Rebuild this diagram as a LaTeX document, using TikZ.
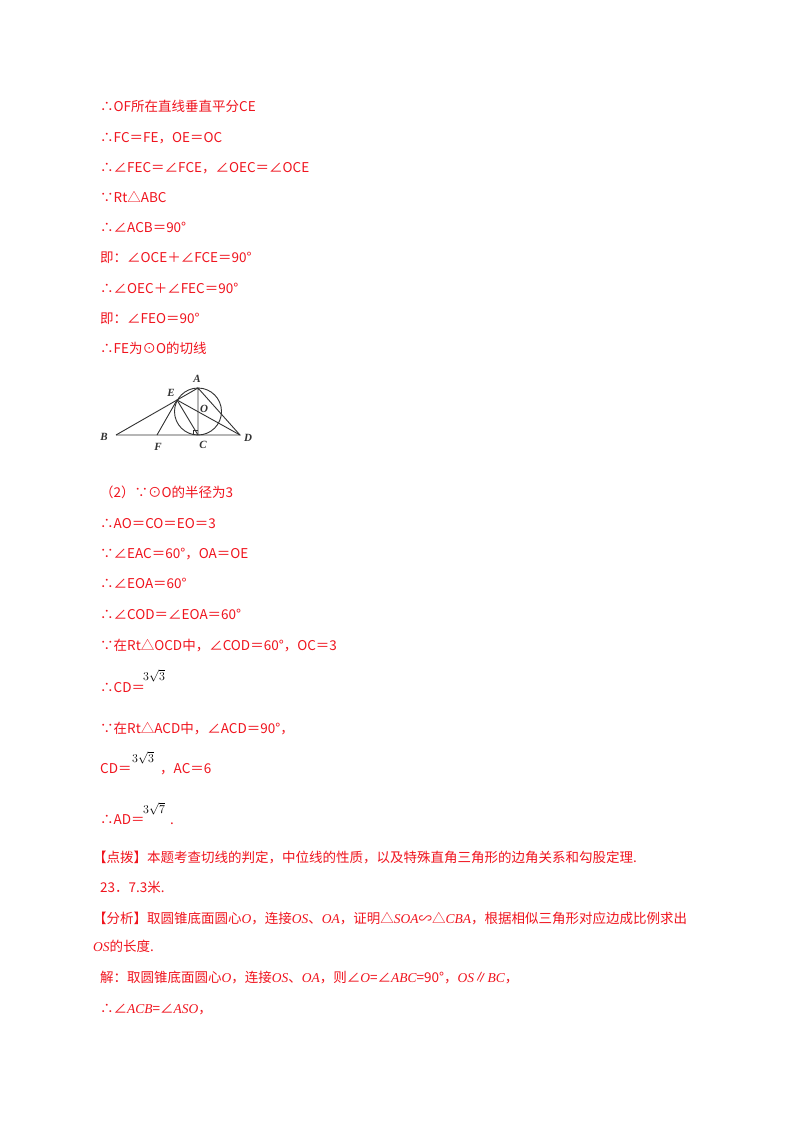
\documentclass[tikz,border=0pt]{standalone}
\usepackage{fontspec}
\setmainfont{Noto Sans CJK SC}
\newfontfamily\serif{Liberation Serif}
\definecolor{txt}{RGB}{240,20,30}
\definecolor{fig}{RGB}{50,50,50}
\newcommand{\mvar}[1]{{\serif\itshape #1}}
\begin{document}
\begin{tikzpicture}[x=1pt,y=-1pt,
  t/.style={anchor=base west,inner sep=0,text=txt,font=\fontsize{13.5}{13.5}\selectfont},
  s/.style={anchor=base west,inner sep=0,font=\serif\fontsize{13}{13}\selectfont},
  lab/.style={inner sep=0,font=\serif\itshape\bfseries\fontsize{11}{11}\selectfont,text=fig},
  g/.style={fig,line width=0.9pt}]
\useasboundingbox[fill=white] (0,0) rectangle (800,1132);
\node[t] (l1) at (100,111) {∴OF所在直线垂直平分CE};
\node[t] (l2) at (100,142) {∴FC＝FE，OE＝OC};
\node[t] (l3) at (100,172) {∴∠FEC＝∠FCE，∠OEC＝∠OCE};
\node[t] (l4) at (100,202) {∵Rt△ABC};
\node[t] (l5) at (100,232) {∴∠ACB＝90°};
\node[t] (l6) at (100,262) {即：∠OCE＋∠FCE＝90°};
\node[t] (l7) at (100,293) {∴∠OEC＋∠FEC＝90°};
\node[t] (l8) at (100,323) {即：∠FEO＝90°};
\node[t] (l9) at (100,353) {∴FE为⊙O的切线};
% figure
\coordinate (B) at (116,435);
\coordinate (C) at (198,435);
\coordinate (D) at (240,435);
\coordinate (A) at (198,388);
\coordinate (O) at (198,411.5);
\coordinate (F) at (157,435);
\coordinate (E) at (177,400);
\draw[g] (O) circle (23.5);
\draw[g] (B) -- (D) -- (A) -- (C);
\draw[g] (B) -- (A);
\draw[g] (F) -- (E) -- (C);
\draw[g] (E) -- (D);
\draw[g,line width=0.6pt] (193,435) -- (193,430) -- (198,430);
\node[lab] (nA) at (197,379) {A};
\node[lab] (nE) at (171,393) {E};
\node[lab] (nO) at (204,409) {O};
\node[lab] (nB) at (104,437) {B};
\node[lab] (nF) at (158,447) {F};
\node[lab] (nC) at (203,445) {C};
\node[lab] (nD) at (248,438) {D};
% part 2
\node[t] (m1) at (100,497) {（2）∵⊙O的半径为3};
\node[t] (m2) at (100,528) {∴AO＝CO＝EO＝3};
\node[t] (m3) at (100,558) {∵∠EAC＝60°，OA＝OE};
\node[t] (m4) at (100,588) {∴∠EOA＝60°};
\node[t] (m5) at (100,619) {∴∠COD＝∠EOA＝60°};
\node[t] (m6) at (100,650) {∵在Rt△OCD中，∠COD＝60°，OC＝3};
\node[t] (m7) at (100,692) {∴CD＝};
\node[s] (r1) at (143,680) {$3\sqrt{3}$};
\node[t] (m8) at (100,733) {∵在Rt△ACD中，∠ACD＝90°，};
\node[t] (m9) at (100,773) {CD＝};
\node[s] (r2) at (132,762) {$3\sqrt{3}$};
\node[t] (m10) at (160,773) {，AC＝6};
\node[t] (m11) at (100,824) {∴AD＝};
\node[s] (r3) at (143,813) {$3\sqrt{7}$};
\node[t] (m12) at (170,824) {.};
\node[t] (p1) at (93,862) {【点拨】本题考查切线的判定，中位线的性质，以及特殊直角三角形的边角关系和勾股定理.};
\node[t] (p2) at (100,892) {23．7.3米.};
\node[t] (p3) at (93,923) {【分析】取圆锥底面圆心\mvar{O}，连接\mvar{OS}、\mvar{OA}，证明△\mvar{SOA}∽△\mvar{CBA}，根据相似三角形对应边成比例求出};
\node[t] (p4) at (93,951) {\mvar{OS}的长度.};
\node[t] (p5) at (100,982) {解：取圆锥底面圆心\mvar{O}，连接\mvar{OS}、\mvar{OA}，则∠\mvar{O}=∠\mvar{ABC}=90°，\mvar{OS}∥\mvar{BC}，};
\node[t] (p6) at (100,1013) {∴∠\mvar{ACB}=∠\mvar{ASO}，};
\end{tikzpicture}
\end{document}
